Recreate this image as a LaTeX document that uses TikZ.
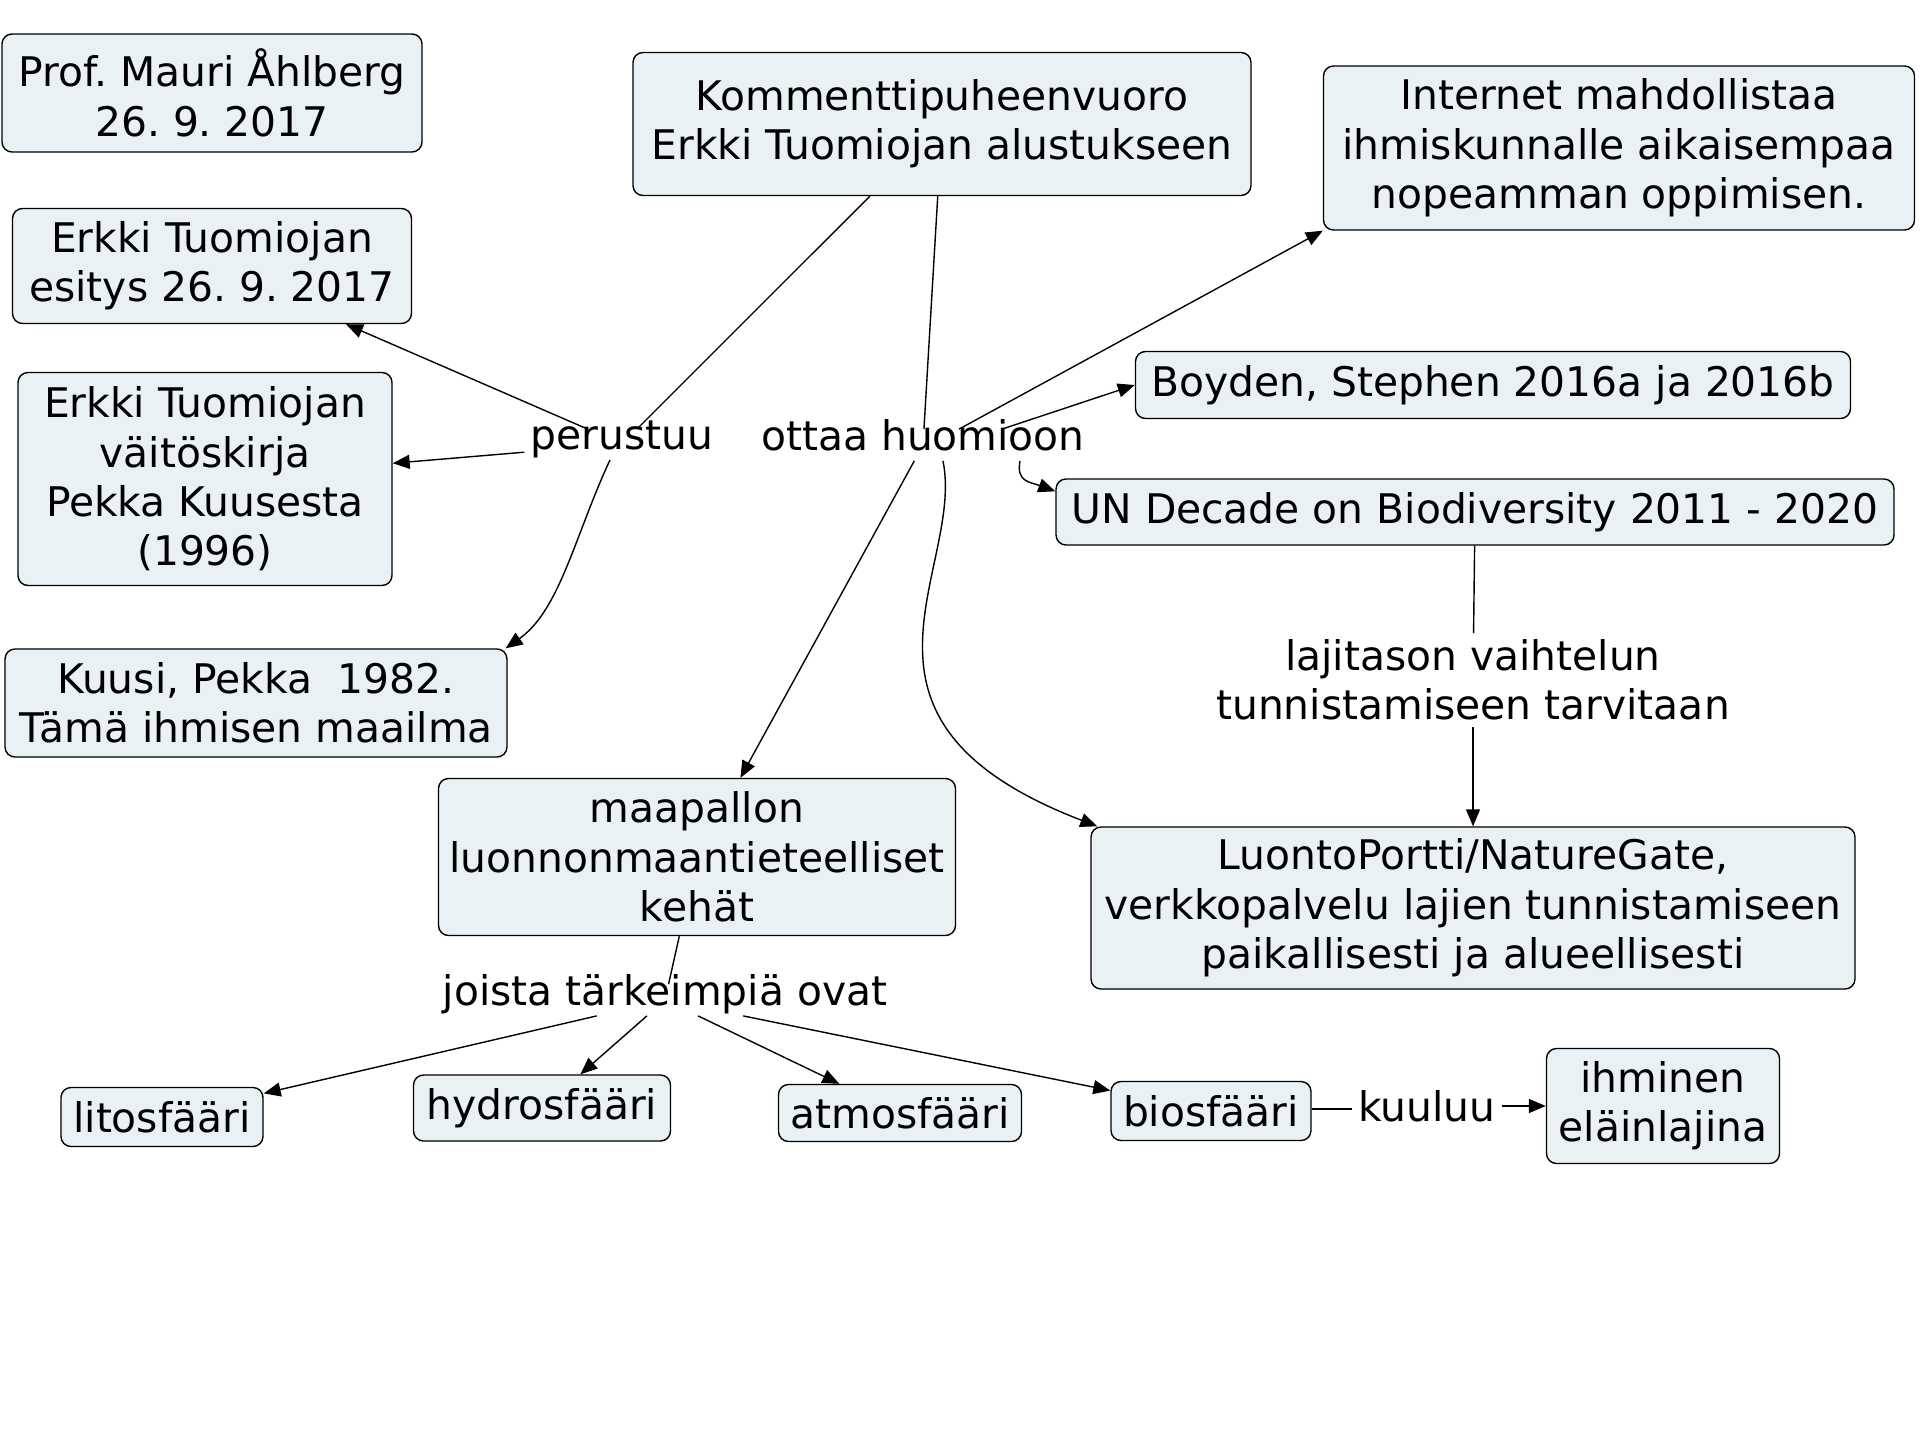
\documentclass[tikz,border=0pt]{standalone}
\usepackage{fontspec}
\setmainfont{DejaVu Sans}
\usetikzlibrary{arrows.meta,calc}
\definecolor{boxfill}{RGB}{233,241,244}
\frenchspacing
\begin{document}
\begin{tikzpicture}[x=0.5pt,y=-0.5pt,
  font=\fontsize{20.4pt}{24.7pt}\selectfont\frenchspacing,
  box/.style={draw=black, line width=0.7pt, fill=boxfill, rounded corners=5pt, align=center, inner sep=0pt},
  lbl/.style={align=center, inner sep=3pt},
  lblone/.style={lbl, text height=0.75em, text depth=0.2em},
  conn/.style={line width=0.7pt},
  arr/.style={conn, -{Triangle[length=8.5pt,width=7pt]}}]
\fill[white] (0,0) rectangle (1920,1440);
\useasboundingbox (0,0) rectangle (1920,1440);

% boxes
\node[box, minimum width=210pt, minimum height=59pt] (prof) at (212,93) {Prof. Mauri Åhlberg\\26. 9. 2017};
\node[box, minimum width=309pt, minimum height=71.5pt] (komm) at (942,124) {Kommenttipuheenvuoro\\Erkki Tuomiojan alustukseen};
\node[box, minimum width=295.5pt, minimum height=82pt] (internet) at (1619,148) {Internet mahdollistaa\\ihmiskunnalle aikaisempaa\\nopeamman oppimisen.};
\node[box, minimum width=199.5pt, minimum height=57.5pt] (esitys) at (212,266) {Erkki Tuomiojan\\esitys 26. 9. 2017};
\node[box, minimum width=187pt, minimum height=106.5pt] (vaitos) at (205,479) {Erkki Tuomiojan\\väitöskirja\\Pekka Kuusesta\\(1996)};
\node[box, minimum width=251pt, minimum height=54pt] (kuusi) at (256,703) {Kuusi, Pekka\ \ 1982.\\Tämä ihmisen maailma};
\node[box, minimum width=357.5pt, minimum height=33.5pt] (boyden) at (1493,385) {Boyden, Stephen 2016a ja 2016b};
\node[box, minimum width=419pt, minimum height=33pt] (un) at (1475,512) {UN Decade on Biodiversity 2011 - 2020};
\node[box, minimum width=258.5pt, minimum height=78.5pt] (maa) at (697,857) {maapallon\\luonnonmaantieteelliset\\kehät};
\node[box, minimum width=382pt, minimum height=81pt] (luonto) at (1473,908) {LuontoPortti/NatureGate,\\verkkopalvelu lajien tunnistamiseen\\paikallisesti ja alueellisesti};
\node[box, minimum width=101pt, minimum height=29.5pt] (lito) at (162,1117) {litosfääri};
\node[box, minimum width=128.5pt, minimum height=33pt] (hydro) at (542,1108) {hydrosfääri};
\node[box, minimum width=121.5pt, minimum height=28.5pt] (atmos) at (900,1113) {atmosfääri};
\node[box, minimum width=100pt, minimum height=29.5pt] (bio) at (1211,1111) {biosfääri};
\node[box, minimum width=116.5pt, minimum height=57.5pt] (ihminen) at (1663,1106) {ihminen\\eläinlajina};

% linking phrases
\node[lblone] (perustuu) at (622,444) {perustuu};
\node[lblone] (ottaa) at (923,445) {ottaa huomioon};
\node[lbl] (laji) at (1473,680) {lajitason vaihtelun\\tunnistamiseen tarvitaan};
\node[lblone] (joista) at (665,1000) {joista tärkeimpiä ovat};
\node[lblone] (kuuluu) at (1427,1116) {kuuluu};

% connectors
\draw[conn] (komm) -- (perustuu);
\draw[conn] (komm) -- (ottaa);
\draw[arr] (perustuu) -- (esitys);
\draw[arr] (perustuu) -- (vaitos);
\draw[arr] ($(perustuu.south)+(-12,0)$) .. controls (575,535) and (560,610) .. ($(kuusi.north east)+(-2,0)$);
\draw[arr] ($(ottaa.north)+(36,0)$) -- (internet.south west);
\draw[arr] ($(ottaa.north)+(79,0)$) -- (boyden.west);
\draw[arr] ($(ottaa.south)+(97,0)$) .. controls (1016,482) and (1030,482) .. ($(un.north west)+(0,13)$);
\draw[arr] (ottaa) -- (maa);
\draw[arr] ($(ottaa.south)+(20,0)$) .. controls (965,570) and (820,720) .. ($(luonto.north west)+(7,0)$);
\draw[conn] (un) -- (laji);
\draw[arr] (laji) -- (luonto);
\draw[conn] (maa) -- (joista);
\draw[arr] (joista) -- (lito);
\draw[arr] (joista) -- (hydro);
\draw[arr] (joista) -- (atmos);
\draw[arr] (joista) -- (bio);
\draw[conn] ($(bio.east)+(0,-2)$) -- ($(bio.east -| kuuluu.west)+(0,-2)$);
\draw[arr] (kuuluu.east |- ihminen.west) -- (ihminen.west);
\end{tikzpicture}
\end{document}
